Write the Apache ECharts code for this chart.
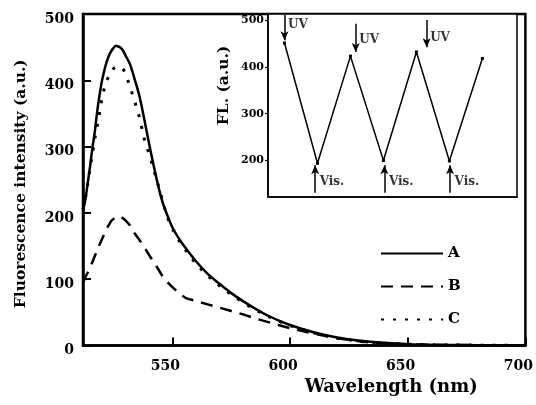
<!DOCTYPE html>
<html>
<head>
<meta charset="utf-8">
<script src="https://cdn.jsdelivr.net/npm/echarts@6.0.0/dist/echarts.min.js"></script>
<style>
  html, body { margin: 0; padding: 0; background: #fff; }
  #chart { width: 536px; height: 405px; }
</style>
</head>
<body>
<div id="chart"></div>
<script>
// Espectros de fluorescencia (nm / u.a.)
const wavelength = [512, 513, 514, 515, 516, 517, 518, 519, 520, 521, 522, 523, 524, 525, 526, 527, 528, 529, 530,
  532, 534, 536, 538, 540, 542, 544, 546, 548, 550, 553, 556, 560, 565, 570, 575, 580, 585, 590, 595, 600,
  610, 620, 630, 640, 650, 660, 680, 700];
const curveA = [203, 220, 245, 270, 298, 322, 352, 377, 398, 414, 427, 437, 444, 449, 452, 451, 449, 445, 438,
  424, 401, 376, 342, 306, 272, 240, 214, 195, 178, 160, 145, 127, 108, 93, 79, 67, 56, 46, 38, 31,
  20, 12, 7, 4, 2, 1, 0.5, 0];
const curveB = [95, 103, 110, 118, 126, 135, 143, 152, 160, 168, 176, 182, 188, 191, 194, 195, 194, 192, 189,
  181, 169, 159, 149, 137, 126, 115, 103, 95, 88, 78, 71, 67, 62, 57, 52, 47, 41, 36, 31, 26,
  18, 11, 6, 3, 2, 1, 0.5, 0];
const curveC = [205, 222, 244, 267, 289, 312, 330, 350, 372, 387, 398, 407, 414, 418, 420, 421, 420, 417, 411,
  390, 368, 344, 312, 290, 266, 242, 216, 192, 176, 157, 142, 123, 105, 90, 77, 65, 54, 45, 37, 30,
  19, 11, 6, 3, 2, 1, 0.5, 0];

const xTicks = [550, 600, 650, 700];
const yTicks = [0, 100, 200, 300, 400, 500];

// Inserto: ciclos UV / Vis.
const cycle = [0, 1, 2, 3, 4, 5, 6];
const fl = [451, 194, 423, 200, 432, 199, 418];
const insetTicks = [200, 300, 400, 500];

const uvArrowX = [0, 2.16, 4.31];
const uvArrowTop = [511, 492, 500];
const uvArrowTip = [457, 432, 442];
const uvLabelY = [490, 457, 462];
const visArrowX = [0.93, 3.03, 5.02];
const visArrowBase = [131, 131, 131];
const visArrowTip = [190, 190, 190];
const visLabelY = [154, 154, 154];

const FONT = 'DejaVu Serif';
const DASH_B = [12, 8];
const DOT_C = [3, 9];
const chart = echarts.init(document.getElementById('chart'));

const toPairs = (xs, ys) => xs.map((x, i) => [x, ys[i]]);

const arrowLines = uvArrowX.map((x, i) => [{ coord: [x, uvArrowTop[i]] }, { coord: [x, uvArrowTip[i]] }])
  .concat(visArrowX.map((x, i) => [{ coord: [x, visArrowBase[i]] }, { coord: [x, visArrowTip[i]] }]));

// corta la polilínea (en píxeles) en trozos según el patrón on/off
function splitDash(pts, on, off) {
  const out = [];
  const period = on + off;
  let cur = null;
  let pos = 0;
  for (let i = 1; i < pts.length; i++) {
    const x0 = pts[i - 1][0], y0 = pts[i - 1][1];
    const x1 = pts[i][0], y1 = pts[i][1];
    const len = Math.hypot(x1 - x0, y1 - y0);
    if (!(len > 0)) continue;
    let t = 0;
    while (t < len - 1e-6) {
      const phase = pos % period;
      if (phase < on) {
        const step = Math.min(on - phase, len - t);
        if (!cur) cur = [[x0 + (x1 - x0) * t / len, y0 + (y1 - y0) * t / len]];
        t += step;
        pos += step;
        cur.push([x0 + (x1 - x0) * t / len, y0 + (y1 - y0) * t / len]);
        if (phase + step >= on - 1e-6) { out.push(cur); cur = null; }
      } else {
        const step = Math.min(period - phase, len - t);
        t += step;
        pos += step;
      }
    }
  }
  if (cur) out.push(cur);
  return out;
}

function dashedCurve(xs, ys, width, dash) {
  return function (params, api) {
    const points = xs.map((x, i) => api.coord([x, ys[i]]));
    return {
      type: 'group',
      children: splitDash(points, dash[0], dash[1]).map(p => ({
        type: 'polyline',
        shape: { points: p },
        style: { fill: 'none', stroke: '#000', lineWidth: width }
      }))
    };
  };
}

const option = {
  animation: false,
  backgroundColor: '#fff',
  textStyle: { fontFamily: FONT, fontWeight: 'bold', color: '#000' },
  legend: {
    data: ['A', 'B', 'C'],
    orient: 'vertical',
    left: 375,
    top: 241,
    itemWidth: 62,
    itemHeight: 14,
    itemGap: 18,
    itemStyle: { opacity: 0 },
    textStyle: { fontFamily: FONT, fontWeight: 'bold', fontSize: 15, color: '#000' }
  },
  grid: [
    { left: 83, top: 14, width: 444, height: 331.5, show: true, borderColor: '#000', borderWidth: 2.5 },
    { left: 268, top: 14, width: 249, height: 183, show: true, borderColor: '#000', borderWidth: 1.5, backgroundColor: '#fff' }
  ],
  xAxis: [
    {
      gridIndex: 0,
      type: 'value',
      min: 512,
      max: 700,
      name: 'Wavelength (nm)',
      nameLocation: 'middle',
      nameGap: 33,
      nameTextStyle: { fontFamily: FONT, fontWeight: 'bold', fontSize: 18, color: '#000', padding: [0, 0, 0, 174] },
      axisLine: { onZero: false, lineStyle: { color: '#000', width: 2.5 } },
      axisTick: { inside: true, length: 8, lineStyle: { color: '#000', width: 2 }, customValues: xTicks },
      axisLabel: { customValues: xTicks, margin: 14, fontFamily: FONT, fontWeight: 'bold', fontSize: 14, color: '#000', padding: [0, 14, 0, 0] },
      splitLine: { show: false }
    },
    {
      gridIndex: 1,
      type: 'value',
      min: -0.5,
      max: 7.05,
      axisLine: { onZero: false, lineStyle: { color: '#000', width: 1.5 } },
      axisTick: { show: false },
      axisLabel: { show: false },
      splitLine: { show: false }
    }
  ],
  yAxis: [
    {
      gridIndex: 0,
      type: 'value',
      min: 0,
      max: 500,
      interval: 100,
      name: 'Fluorescence intensity (a.u.)',
      nameLocation: 'middle',
      nameGap: 54,
      nameTextStyle: { fontFamily: FONT, fontWeight: 'bold', fontSize: 15.5, color: '#000', padding: [0, 8, 0, 0] },
      axisLine: { onZero: false, lineStyle: { color: '#000', width: 2.5 } },
      axisTick: { inside: true, length: 8, lineStyle: { color: '#000', width: 2 }, customValues: yTicks },
      axisLabel: {
        customValues: yTicks, margin: 9, color: '#000',
        formatter: '{t|{value}}',
        rich: { t: { fontFamily: FONT, fontWeight: 'bold', fontSize: 14, color: '#000', padding: [10, 0, 0, 0] } }
      },
      splitLine: { show: false }
    },
    {
      gridIndex: 1,
      type: 'value',
      min: 122,
      max: 513,
      name: 'FL. (a.u.)',
      nameLocation: 'middle',
      nameGap: 36,
      nameTextStyle: { fontFamily: FONT, fontWeight: 'bold', fontSize: 15.5, color: '#000', padding: [0, 0, 0, 40] },
      axisLine: { onZero: false, lineStyle: { color: '#000', width: 1.5 } },
      axisTick: { length: 3, lineStyle: { color: '#000', width: 1.2 }, customValues: insetTicks },
      axisLabel: { customValues: insetTicks, margin: 4, fontFamily: FONT, fontWeight: 'bold', fontSize: 11, color: '#000' },
      splitLine: { show: false }
    }
  ],
  series: [
    {
      name: 'A',
      type: 'line',
      xAxisIndex: 0,
      yAxisIndex: 0,
      data: toPairs(wavelength, curveA),
      symbol: 'none',
      smooth: 0.3,
      lineStyle: { color: '#000', width: 2.5 }
    },
    // B y C: solo entradas de leyenda; las curvas van en las series custom
    {
      name: 'B',
      type: 'line',
      xAxisIndex: 0,
      yAxisIndex: 0,
      data: [],
      symbol: 'none',
      lineStyle: { color: '#000', width: 2.5, type: DASH_B }
    },
    {
      name: 'C',
      type: 'line',
      xAxisIndex: 0,
      yAxisIndex: 0,
      data: [],
      symbol: 'none',
      lineStyle: { color: '#000', width: 3, type: DOT_C }
    },
    {
      name: 'curveB',
      type: 'custom',
      xAxisIndex: 0,
      yAxisIndex: 0,
      data: [[wavelength[0], curveB[0]]],
      renderItem: dashedCurve(wavelength, curveB, 2.5, DASH_B),
      silent: true
    },
    {
      name: 'curveC',
      type: 'custom',
      xAxisIndex: 0,
      yAxisIndex: 0,
      data: [[wavelength[0], curveC[0]]],
      renderItem: dashedCurve(wavelength, curveC, 3, DOT_C),
      silent: true
    },
    {
      name: 'cycles',
      type: 'line',
      xAxisIndex: 1,
      yAxisIndex: 1,
      data: toPairs(cycle, fl),
      symbol: 'rect',
      symbolSize: 3,
      lineStyle: { color: '#000', width: 1.5 },
      itemStyle: { color: '#000' },
      markLine: {
        silent: true,
        symbol: ['none', 'arrow'],
        symbolSize: [6, 9],
        label: { show: false },
        lineStyle: { color: '#000', width: 1.5, type: 'solid' },
        data: arrowLines
      }
    },
    {
      name: 'uvLabels',
      type: 'scatter',
      xAxisIndex: 1,
      yAxisIndex: 1,
      data: toPairs(uvArrowX, uvLabelY),
      symbolSize: 1,
      itemStyle: { color: 'transparent' },
      label: { show: true, position: 'right', distance: 3, formatter: 'UV', fontFamily: FONT, fontWeight: 'bold', fontSize: 12, color: '#000' }
    },
    {
      name: 'visLabels',
      type: 'scatter',
      xAxisIndex: 1,
      yAxisIndex: 1,
      data: toPairs(visArrowX, visLabelY),
      symbolSize: 1,
      itemStyle: { color: 'transparent' },
      label: { show: true, position: 'right', distance: 4, formatter: 'Vis.', fontFamily: FONT, fontWeight: 'bold', fontSize: 12, color: '#000' }
    }
  ]
};

chart.setOption(option);
</script>
</body>
</html>
